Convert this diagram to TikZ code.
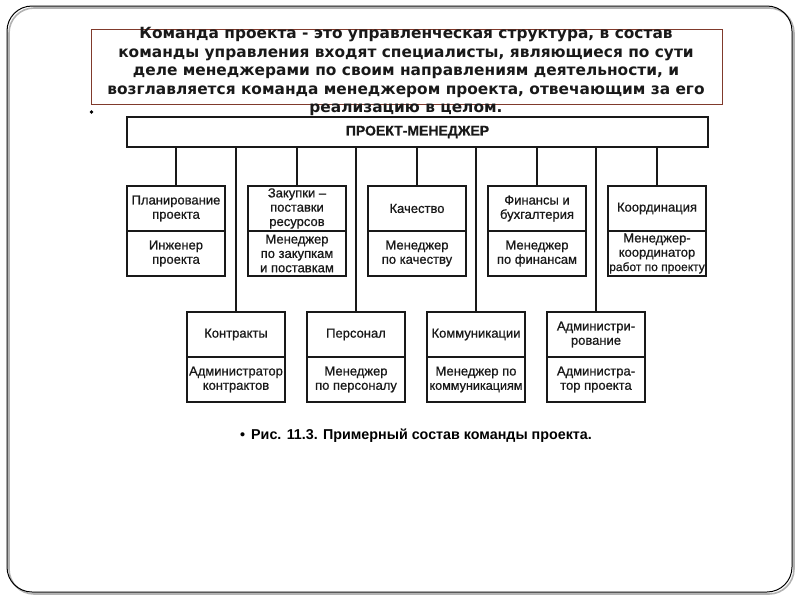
\documentclass[tikz,border=0pt]{standalone}
\usepackage{fontspec}
\setmainfont{Liberation Sans}
\newfontfamily\boxfont[FakeBold=0.8]{Liberation Sans}
\newfontfamily\headfont[FakeBold=0.6]{Liberation Sans Bold}
\newfontfamily\slidefont{DejaVu Sans}
\definecolor{ink}{RGB}{25,25,25}
\definecolor{framered}{RGB}{128,58,44}
\begin{document}
\begin{tikzpicture}[x=1pt,y=-1pt,
    part/.style={draw=ink,line width=1.1pt,minimum width=98pt,minimum height=45pt,
      inner sep=1pt,align=center,text=ink,font=\boxfont\fontsize{13}{14.3}\selectfont},
    link/.style={draw=ink,line width=1.1pt}]
    \useasboundingbox (0,0) rectangle (800,600);
    % slide frame
    \draw[gray!60,line width=1.6pt,rounded corners=25pt] (9,8) rectangle (794,594);
    \draw[line width=1pt,rounded corners=25pt] (7,6) rectangle (792,592);
    % title
    \node[draw=framered,line width=0.8pt,minimum width=631pt,minimum height=75pt] (titlebox) at (406.5,66.5) {};
    \node[align=center,inner sep=0pt,text=ink,font=\slidefont\bfseries\fontsize{15.4}{18.5}\selectfont] (titletext) at (406,71.5)
      {Команда проекта - это управленческая структура, в состав\\
       команды управления входят специалисты, являющиеся по сути\\
       деле менеджерами по своим направлениям деятельности, и\\
       возглавляется команда менеджером проекта, отвечающим за его\\
       реализацию в целом.};
    \node[circle,fill,inner sep=1.4pt] (dot) at (91.5,112) {};
    % project manager
    \node[draw=ink,line width=1.1pt,minimum width=581pt,minimum height=30pt,text=ink,
      font=\headfont\fontsize{14}{16}\selectfont] (pm) at (417.5,132) {ПРОЕКТ-МЕНЕДЖЕР};
    % first row
    \node[part] (plan) at (176,208.5) {Планирование\\проекта};
    \node[part] (plan-m) at (176,253.5) {Инженер\\проекта};
    \node[part] (supply) at (297,208.5) {Закупки –\\поставки\\ресурсов};
    \node[part] (supply-m) at (297,253.5) {Менеджер\\по закупкам\\и поставкам};
    \node[part] (quality) at (417,208.5) {Качество};
    \node[part] (quality-m) at (417,253.5) {Менеджер\\по качеству};
    \node[part] (finance) at (537,208.5) {Финансы и\\бухгалтерия};
    \node[part] (finance-m) at (537,253.5) {Менеджер\\по финансам};
    \node[part] (coord) at (657,208.5) {Координация};
    \node[part] (coord-m) at (657,253.5) {Менеджер-\\координатор\\{\fontsize{12}{14.3}\selectfont работ по проекту}};
    % second row
    \node[part] (contract) at (236,334.5) {Контракты};
    \node[part] (contract-m) at (236,379.5) {Администратор\\контрактов};
    \node[part] (staff) at (356,334.5) {Персонал};
    \node[part] (staff-m) at (356,379.5) {Менеджер\\по персоналу};
    \node[part] (comm) at (476,334.5) {Коммуникации};
    \node[part] (comm-m) at (476,379.5) {Менеджер по\\{\fontsize{12.6}{14.3}\selectfont коммуникациям}};
    \node[part] (admin) at (596,334.5) {Администри-\\рование};
    \node[part] (admin-m) at (596,379.5) {Администра-\\тор проекта};
    % links
    \draw[link] (pm.south -| plan.north) -- (plan.north);
    \draw[link] (pm.south -| supply.north) -- (supply.north);
    \draw[link] (pm.south -| quality.north) -- (quality.north);
    \draw[link] (pm.south -| finance.north) -- (finance.north);
    \draw[link] (pm.south -| coord.north) -- (coord.north);
    \draw[link] (pm.south -| contract.north) -- (contract.north);
    \draw[link] (pm.south -| staff.north) -- (staff.north);
    \draw[link] (pm.south -| comm.north) -- (comm.north);
    \draw[link] (pm.south -| admin.north) -- (admin.north);
    % caption
    \node[anchor=west,inner sep=0pt,font=\bfseries\fontsize{14.3}{16}\selectfont] (caption) at (240,436)
      {•\hspace{6pt}Рис. 11.3. Примерный состав команды проекта.};
\end{tikzpicture}
\end{document}
